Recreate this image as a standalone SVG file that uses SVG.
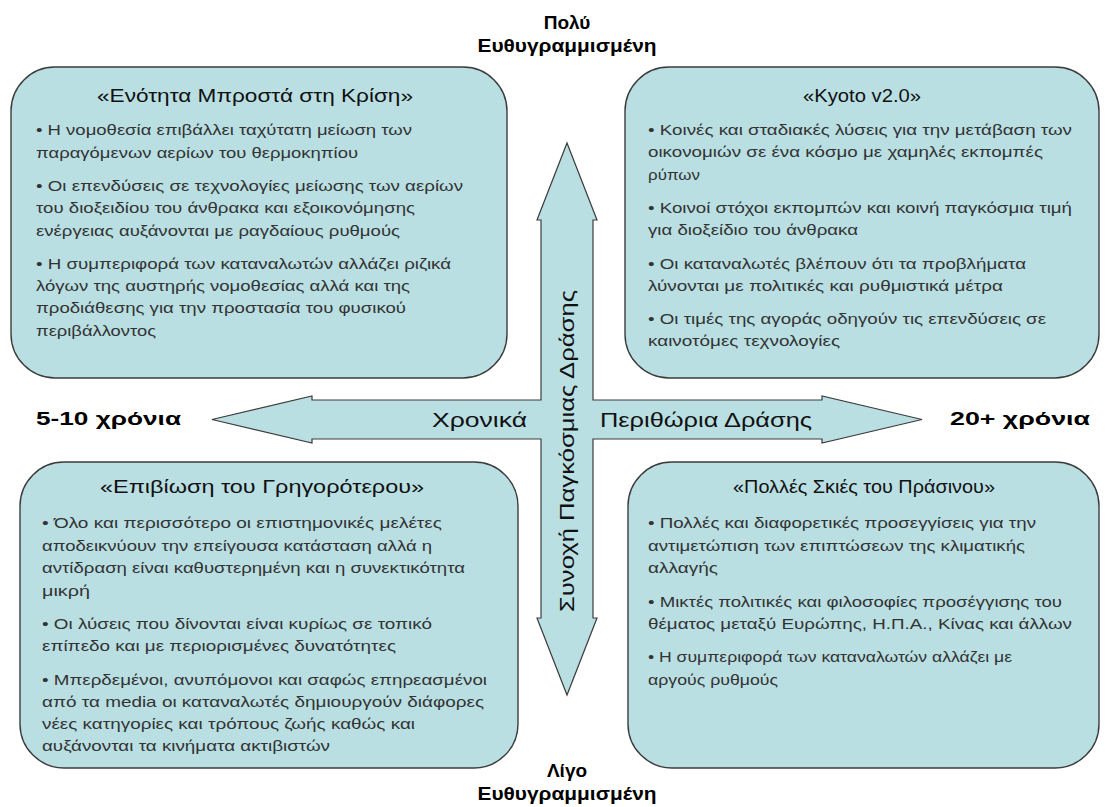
<svg xmlns="http://www.w3.org/2000/svg" width="1111" height="807" viewBox="0 0 1111 807">
<style>
.box{fill:#b9dfe3;stroke:#3c3c3c;stroke-width:1.4}
.arrow{fill:#b9dfe3;stroke:#3c3c3c;stroke-width:1.2;stroke-linejoin:miter}
.t{font-family:"Liberation Sans",Arial,sans-serif;font-size:18px;fill:#111;text-anchor:middle}
.b{font-family:"Liberation Sans",Arial,sans-serif;font-size:15px;fill:#333}
.lbl{font-family:"Liberation Sans",Arial,sans-serif;font-size:19px;font-weight:bold;fill:#000}
.ax{font-family:"Liberation Sans",Arial,sans-serif;font-size:20px;fill:#111}
</style>
<rect width="1111" height="807" fill="#ffffff"/>
<g id="connectors">
<polygon class="arrow" points="567,143 597,220 593,220 593,400 822,400 822,396 922,419.5 822,443 822,439 593,439 593,618 597,618 567,695 537,618 541,618 541,439 312,439 312,443 212,419.5 312,396 312,400 541,400 541,220 537,220"/>
<text class="ax" x="432" y="427" textLength="95" lengthAdjust="spacingAndGlyphs">Χρονικά</text>
<text class="ax" x="600" y="427" textLength="212" lengthAdjust="spacingAndGlyphs">Περιθώρια Δράσης</text>
<text class="ax" transform="translate(574,451) rotate(-90)" x="0" y="0" text-anchor="middle" textLength="322" lengthAdjust="spacingAndGlyphs">Συνοχή Παγκόσμιας Δράσης</text>
</g>
<g id="label-top">
<text class="lbl" x="567" y="29" text-anchor="middle">Πολύ</text>
<text class="lbl" x="567" y="52" text-anchor="middle" textLength="179" lengthAdjust="spacingAndGlyphs">Ευθυγραμμισμένη</text>
</g>
<g id="label-bottom">
<text class="lbl" x="567" y="777" text-anchor="middle">Λίγο</text>
<text class="lbl" x="567" y="800" text-anchor="middle" textLength="179" lengthAdjust="spacingAndGlyphs">Ευθυγραμμισμένη</text>
</g>
<g id="label-left">
<text class="lbl" x="36" y="425" textLength="145" lengthAdjust="spacingAndGlyphs">5-10 χρόνια</text>
</g>
<g id="label-right">
<text class="lbl" x="950" y="425" textLength="140" lengthAdjust="spacingAndGlyphs">20+ χρόνια</text>
</g>
<g id="box-top-left">
<rect class="box" x="11" y="67" width="496" height="311" rx="44" ry="44"/>
<text class="t" x="255" y="102" textLength="316" lengthAdjust="spacingAndGlyphs">«Ενότητα Μπροστά στη Κρίση»</text>
<text class="b" x="36" y="135" textLength="376" lengthAdjust="spacingAndGlyphs">• Η νομοθεσία επιβάλλει ταχύτατη μείωση των</text>
<text class="b" x="36" y="158" textLength="322" lengthAdjust="spacingAndGlyphs">παραγόμενων αερίων του θερμοκηπίου</text>
<text class="b" x="36" y="191" textLength="427" lengthAdjust="spacingAndGlyphs">• Οι επενδύσεις σε τεχνολογίες μείωσης των αερίων</text>
<text class="b" x="36" y="213" textLength="379" lengthAdjust="spacingAndGlyphs">του διοξειδίου του άνθρακα και εξοικονόμησης</text>
<text class="b" x="36" y="236" textLength="364" lengthAdjust="spacingAndGlyphs">ενέργειας αυξάνονται με ραγδαίους ρυθμούς</text>
<text class="b" x="36" y="269" textLength="415" lengthAdjust="spacingAndGlyphs">• Η συμπεριφορά των καταναλωτών αλλάζει ριζικά</text>
<text class="b" x="36" y="291" textLength="374" lengthAdjust="spacingAndGlyphs">λόγων της αυστηρής νομοθεσίας αλλά και της</text>
<text class="b" x="36" y="313" textLength="370" lengthAdjust="spacingAndGlyphs">προδιάθεσης για την προστασία του φυσικού</text>
<text class="b" x="36" y="336" textLength="120" lengthAdjust="spacingAndGlyphs">περιβάλλοντος</text>
</g>
<g id="box-top-right">
<rect class="box" x="625" y="67" width="474" height="311" rx="44" ry="44"/>
<text class="t" x="862" y="102" textLength="118" lengthAdjust="spacingAndGlyphs">«Kyoto v2.0»</text>
<text class="b" x="648" y="135" textLength="424" lengthAdjust="spacingAndGlyphs">• Κοινές και σταδιακές λύσεις για την μετάβαση των</text>
<text class="b" x="648" y="157" textLength="395" lengthAdjust="spacingAndGlyphs">οικονομιών σε ένα κόσμο με χαμηλές εκπομπές</text>
<text class="b" x="648" y="180" textLength="52" lengthAdjust="spacingAndGlyphs">ρύπων</text>
<text class="b" x="648" y="213" textLength="424" lengthAdjust="spacingAndGlyphs">• Κοινοί στόχοι εκπομπών και κοινή παγκόσμια τιμή</text>
<text class="b" x="648" y="235" textLength="210" lengthAdjust="spacingAndGlyphs">για διοξείδιο του άνθρακα</text>
<text class="b" x="648" y="269" textLength="378" lengthAdjust="spacingAndGlyphs">• Οι καταναλωτές βλέπουν ότι τα προβλήματα</text>
<text class="b" x="648" y="291" textLength="355" lengthAdjust="spacingAndGlyphs">λύνονται με πολιτικές και ρυθμιστικά μέτρα</text>
<text class="b" x="648" y="324" textLength="398" lengthAdjust="spacingAndGlyphs">• Οι τιμές της αγοράς οδηγούν τις επενδύσεις σε</text>
<text class="b" x="648" y="346" textLength="192" lengthAdjust="spacingAndGlyphs">καινοτόμες τεχνολογίες</text>
</g>
<g id="box-bottom-left">
<rect class="box" x="20" y="462" width="498" height="306" rx="44" ry="44"/>
<text class="t" x="262" y="493" textLength="324" lengthAdjust="spacingAndGlyphs">«Επιβίωση του Γρηγορότερου»</text>
<text class="b" x="42" y="528" textLength="400" lengthAdjust="spacingAndGlyphs">• Όλο και περισσότερο οι επιστημονικές μελέτες</text>
<text class="b" x="42" y="551" textLength="390" lengthAdjust="spacingAndGlyphs">αποδεικνύουν την επείγουσα κατάσταση αλλά η</text>
<text class="b" x="42" y="573" textLength="423" lengthAdjust="spacingAndGlyphs">αντίδραση είναι καθυστερημένη και η συνεκτικότητα</text>
<text class="b" x="42" y="596" textLength="48" lengthAdjust="spacingAndGlyphs">μικρή</text>
<text class="b" x="42" y="629" textLength="390" lengthAdjust="spacingAndGlyphs">• Οι λύσεις που δίνονται είναι κυρίως σε τοπικό</text>
<text class="b" x="42" y="651" textLength="354" lengthAdjust="spacingAndGlyphs">επίπεδο και με περιορισμένες δυνατότητες</text>
<text class="b" x="42" y="685" textLength="445" lengthAdjust="spacingAndGlyphs">• Μπερδεμένοι, ανυπόμονοι και σαφώς επηρεασμένοι</text>
<text class="b" x="42" y="707" textLength="442" lengthAdjust="spacingAndGlyphs">από τα media οι καταναλωτές δημιουργούν διάφορες</text>
<text class="b" x="42" y="729" textLength="373" lengthAdjust="spacingAndGlyphs">νέες κατηγορίες και τρόπους ζωής καθώς και</text>
<text class="b" x="42" y="751" textLength="288" lengthAdjust="spacingAndGlyphs">αυξάνονται τα κινήματα ακτιβιστών</text>
</g>
<g id="box-bottom-right">
<rect class="box" x="628" y="462" width="471" height="306" rx="44" ry="44"/>
<text class="t" x="864" y="493" textLength="262" lengthAdjust="spacingAndGlyphs">«Πολλές Σκιές του Πράσινου»</text>
<text class="b" x="648" y="528" textLength="388" lengthAdjust="spacingAndGlyphs">• Πολλές και διαφορετικές προσεγγίσεις για την</text>
<text class="b" x="648" y="551" textLength="377" lengthAdjust="spacingAndGlyphs">αντιμετώπιση των επιπτώσεων της κλιματικής</text>
<text class="b" x="648" y="573" textLength="70" lengthAdjust="spacingAndGlyphs">αλλαγής</text>
<text class="b" x="648" y="607" textLength="414" lengthAdjust="spacingAndGlyphs">• Μικτές πολιτικές και φιλοσοφίες προσέγγισης του</text>
<text class="b" x="648" y="629" textLength="424" lengthAdjust="spacingAndGlyphs">θέματος μεταξύ Ευρώπης, Η.Π.Α., Κίνας και άλλων</text>
<text class="b" x="648" y="662" textLength="364" lengthAdjust="spacingAndGlyphs">• Η συμπεριφορά των καταναλωτών αλλάζει με</text>
<text class="b" x="648" y="685" textLength="130" lengthAdjust="spacingAndGlyphs">αργούς ρυθμούς</text>
</g>
</svg>
